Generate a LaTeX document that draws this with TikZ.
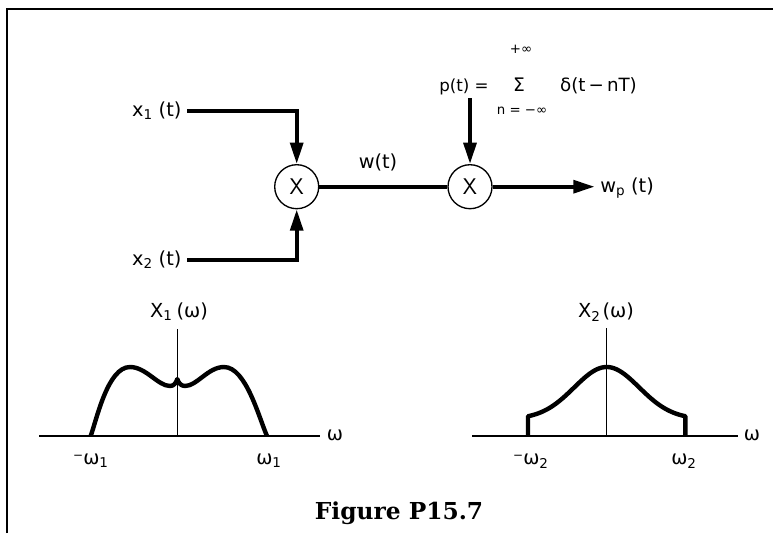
\documentclass[tikz,border=0pt]{standalone}
\usepackage{fontspec}
\setmainfont{DejaVu Sans}
\newfontfamily\capfont{DejaVu Serif}
\usetikzlibrary{arrows.meta}
\begin{document}
\begin{tikzpicture}[x=0.75pt, y=-0.75pt,
  lab/.style={font=\fontsize{14.5}{16}\selectfont, inner sep=0pt, text height=11.5pt, text depth=3pt},
  form/.style={font=\fontsize{12.5}{14}\selectfont, inner sep=0pt, text height=10pt, text depth=2.5pt},
  small/.style={font=\fontsize{10}{11}\selectfont, inner sep=0pt},
  mult/.style={circle, draw, line width=1pt, minimum size=33pt, inner sep=0pt},
  conn/.style={line width=3pt},
  tip/.style={-{Triangle[length=16pt,width=9.5pt]}},
  axis/.style={line width=1pt},
  curve/.style={line width=3.3pt, line join=round}]
\useasboundingbox (0,0) rectangle (773,533);
% frame
\draw[line width=1.1pt] (7,533) -- (7,9) -- (773,9);
% block diagram
\node[mult] (m1) at (296.7,186.7) {\sffamily\fontsize{17}{17}\selectfont X};
\node[mult] (m2) at (470,186.7) {\sffamily\fontsize{17}{17}\selectfont X};
\node[lab, anchor=east, inner xsep=4pt] (x1) at (187,110.5) {x\textsubscript{1}\hspace{0.3em}(t)};
\node[lab, anchor=east, inner xsep=4pt] (x2) at (187,259.5) {x\textsubscript{2}\hspace{0.3em}(t)};
\node[lab] (w) at (378,163) {w(t)};
\node[lab, anchor=west] (wp) at (600,186.7) {w\textsubscript{p}\hspace{0.3em}(t)};
\node[form] (pt) at (464,86) {p(t) =};
\node[form, font=\fontsize{14}{14}\selectfont] (sig) at (519,86) {Σ};
\node[small] (sup) at (521,49) {+∞};
\node[small] (sub) at (522,111) {n = −∞};
\node[form, font=\fontsize{13.7}{15}\selectfont] (delta) at (598.5,86) {δ(t\,−\,nT)};
\coordinate (pin) at (470,98);
\draw[conn, tip] (x1.east) -| (m1);
\draw[conn, tip] (x2.east) -| (m1);
\draw[conn] (m1) -- (m2);
\draw[conn, tip] (pin) -- (m2);
\draw[conn, tip, shorten >=4pt] (m2) -- (wp.west);
% spectrum X1
\draw[axis] (39,436) -- (320,436);
\draw[axis] (177.3,329) -- (177.3,436);
\node[lab] (X1) at (179,312) {X\textsubscript{1}\hspace{0.2em}(ω)};
\node[lab] (om1) at (335,435) {ω};
\node[lab] (mw1) at (91,459) {\raisebox{0.25em}{\fontsize{9}{9}\selectfont −}ω\textsubscript{1}};
\node[lab] (pw1) at (269,459) {ω\textsubscript{1}};
\draw[curve] (90.7,436) .. controls (97,418) and (108,367) .. (130,367)
  .. controls (146,367) and (158,386) .. (170,386)
  .. controls (174,386) and (176,383) .. (177.3,379)
  .. controls (178.5,383) and (181,386) .. (185,386)
  .. controls (197,386) and (208,367) .. (224,367)
  .. controls (246,367) and (259,418) .. (267,436);
% spectrum X2
\draw[axis] (472,436) -- (738,436);
\draw[axis] (606.7,328) -- (606.7,436);
\node[lab] (X2) at (606,312) {X\textsubscript{2}\hspace{0.1em}(ω)};
\node[lab] (om2) at (752,435) {ω};
\node[lab] (mw2) at (531,459) {\raisebox{0.25em}{\fontsize{9}{9}\selectfont −}ω\textsubscript{2}};
\node[lab] (pw2) at (684,459) {ω\textsubscript{2}};
\draw[curve] (528,436) -- plot[domain=-78.7:78.7, samples=80, smooth] ({606.7+\x},{419-52*exp(-(\x*\x)/2116)}) -- (685.4,436);
% caption
\node[font=\capfont\bfseries\fontsize{17.5}{20}\selectfont, anchor=base, inner sep=0pt] (cap) at (399,519) {Figure P15.7};
\end{tikzpicture}
\end{document}
